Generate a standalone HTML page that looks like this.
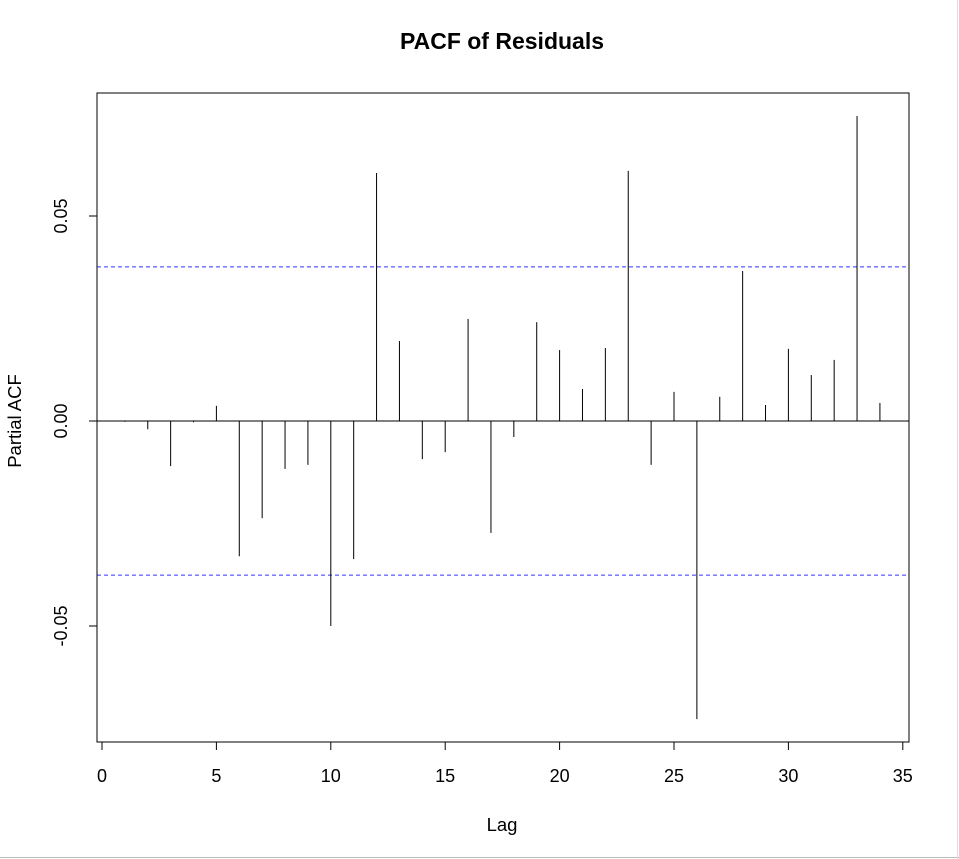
<!DOCTYPE html>
<html><head><meta charset="utf-8"><style>
body{margin:0;background:#fff;}
svg{display:block;font-family:"Liberation Sans",Arial,sans-serif;}
</style></head><body>
<svg id="chart" width="959" height="859" viewBox="0 0 959 859">
<text x="502" y="49" text-anchor="middle" font-size="23" font-weight="bold">PACF of Residuals</text>
<rect x="97" y="93" width="812" height="649" fill="none" stroke="#000" stroke-width="1"/>
<text x="502" y="831" text-anchor="middle" font-size="18.5">Lag</text>
<text transform="translate(21,421) rotate(-90)" text-anchor="middle" font-size="18.5">Partial ACF</text>
<line x1="0" y1="857.5" x2="959" y2="857.5" stroke="#bbb"/>
<line x1="957.5" y1="0" x2="957.5" y2="859" stroke="#ddd"/>
<g id="marks"></g>
</svg>
<script>
const lags=[1,2,3,4,5,6,7,8,9,10,11,12,13,14,15,16,17,18,19,20,21,22,23,24,25,26,27,28,29,30,31,32,33,34];
const pacfValues=[-0.0002,-0.002,-0.011,-0.0003,0.0037,-0.033,-0.0237,-0.0117,-0.0107,-0.050,-0.0337,0.0605,0.0195,-0.0093,-0.0076,0.0249,-0.0273,-0.0039,0.0241,0.0173,0.0078,0.0178,0.061,-0.0107,0.0071,-0.0727,0.0059,0.0366,0.0039,0.0176,0.0112,0.0149,0.0744,0.0044];
const ciBound=[0.0376];
const xTicks=[0,5,10,15,20,25,30,35];
const yTicks=[-0.05,0,0.05];
const yTickLabels=["-0.05","0.00","0.05"];
const ns="http://www.w3.org/2000/svg";
const g=document.getElementById('marks');
const xs=v=>102+v*22.88;
const ys=v=>421-v*4100;
function mk(tag,attrs){const e=document.createElementNS(ns,tag);for(const k in attrs)e.setAttribute(k,attrs[k]);g.appendChild(e);return e;}
let z=mk('line',{x1:97,x2:909,y1:ys(0),y2:ys(0),stroke:'#000'});


ciBound.forEach(c=>{[c,-c].forEach((v,i)=>{
 const l=mk('line',{x1:97,x2:909,y1:ys(v),y2:ys(v),stroke:'#3333ff','stroke-dasharray':'4,3'});
 
 
});});
lags.forEach((lag,i)=>{
 const l=mk('line',{x1:xs(lag),x2:xs(lag),y1:ys(0),y2:ys(pacfValues[i]),stroke:'#000'});
 
 
});
let ax=mk('line',{x1:xs(0),x2:xs(35),y1:742,y2:742,stroke:'#000'});


xTicks.forEach(t=>{
 const tk=mk('line',{x1:xs(t),x2:xs(t),y1:742,y2:750,stroke:'#000'});
 
 
 const tx=mk('text',{x:xs(t),y:782,'text-anchor':'middle','font-size':18});
 tx.textContent=t;
 
 
});
let ay=mk('line',{x1:97,x2:97,y1:ys(-0.05),y2:ys(0.05),stroke:'#000'});


yTicks.forEach((t,i)=>{
 const tk=mk('line',{x1:89,x2:97,y1:ys(t),y2:ys(t),stroke:'#000'});
 
 
 const tx=mk('text',{transform:`translate(67,${ys(t)}) rotate(-90)`,'text-anchor':'middle','font-size':18});
 tx.textContent=yTickLabels[i];
 
 
});
</script>
</body></html>
